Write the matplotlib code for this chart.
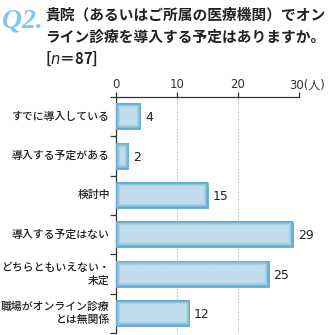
import numpy as np
import matplotlib.pyplot as plt
from matplotlib.colors import to_rgb

plt.rcParams['font.family'] = ['Noto Sans CJK JP', 'DejaVu Sans']

categories = ['すでに導入している', '導入する予定がある', '検討中', '導入する予定はない',
              'どちらともいえない・\n未定', '職場がオンライン診療\nとは無関係']
counts = [4, 2, 15, 29, 25, 12]
xticks = [0, 10, 20, 30]

edge_col = np.array(to_rgb('#62aad0'))
mid_col = np.array(to_rgb('#c2ddec'))
bar_h = 0.64

fig = plt.figure(figsize=(3.29, 3.35), dpi=100)
ax = fig.add_axes([116 / 329, 2 / 335, 183 / 329, 236 / 335])

# bars with a soft darker rim, drawn as small images clipped to each bar
for i, v in enumerate(counts):
    w = max(int(round(v * 6.1)), 2)
    h = 25
    yy, xx = np.mgrid[0:h, 0:w]
    d = np.minimum(np.minimum(yy, h - 1 - yy), np.minimum(xx, w - 1 - xx))
    t = np.clip(d / 4.0, 0, 1)[..., None] ** 0.8
    img = edge_col * (1 - t) + mid_col * t
    ax.imshow(img, extent=(0, v, i + bar_h / 2, i - bar_h / 2),
              aspect='auto', interpolation='bilinear', zorder=3)
    ax.add_patch(plt.Rectangle((0, i - bar_h / 2), v, bar_h, fill=False,
                               edgecolor='#6cb0d4', linewidth=0.7, zorder=4))
    ax.text(v + 0.8, i + 0.03, str(v), va='center', ha='left',
            fontsize=9, color='#222222', family='DejaVu Sans')

ax.set_xlim(0, 30)
ax.set_ylim(len(categories) - 0.5, -0.5)

for x in xticks[1:-1]:
    ax.axvline(x, color='#b0b0b0', linewidth=0.6, linestyle=(0, (2, 2)), zorder=1)

ax.xaxis.tick_top()
ax.set_xticks(xticks)
ax.set_xticklabels([str(x) for x in xticks[:-1]] + [''], fontsize=8.5,
                   color='#333333', family='DejaVu Sans')
ax.tick_params(axis='x', direction='out', length=3.6, width=0.9, pad=1, colors='#333333')
# last tick carries the unit
ax.annotate('30(人)', xy=(30, -0.5), xycoords='data', xytext=(-6.8, 3.6),
            textcoords='offset points', ha='left', va='bottom', fontsize=8.5,
            color='#333333', annotation_clip=False,
            family=['DejaVu Sans', 'Noto Sans CJK JP'])

ax.set_yticks(np.arange(len(categories) + 1) - 0.5)
ax.set_yticklabels([])
ax.tick_params(axis='y', direction='out', length=4, width=0.9, colors='#333333')
for i, lab in enumerate(categories):
    ax.text(-1.0, i, lab, ha='right', va='center', fontsize=7.8,
            color='#222222', linespacing=1.3, fontweight='medium')

for s in ['right', 'bottom']:
    ax.spines[s].set_visible(False)
for s in ['left', 'top']:
    ax.spines[s].set_linewidth(0.9)
    ax.spines[s].set_color('#333333')

# heading
fig.text(2 / 329, 1 - 28 / 335, 'Q2.', fontsize=20, style='italic', fontweight='bold',
         family='Liberation Serif', color='#80c6ec')
heading = ['貴院（あるいはご所属の医療機関）でオン',
           'ライン診療を導入する予定はありますか。']
for k, line in enumerate(heading):
    fig.text(45 / 329, 1 - (15 + 22 * k) / 335, line, fontsize=10.6,
             fontweight='bold', color='#222222', va='center')
fig.text(45 / 329, 1 - 59 / 335, '[$n$＝87]', fontsize=10.6, fontweight='bold',
         color='#222222', va='center')

fig.savefig('out.png', dpi=100)
